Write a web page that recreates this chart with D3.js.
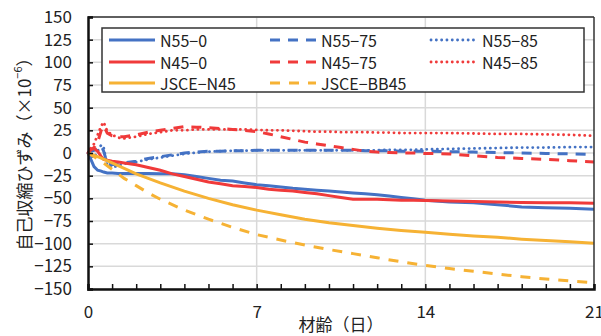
<!DOCTYPE html>
<html>
<head>
<meta charset="utf-8">
<script src="https://cdn.jsdelivr.net/npm/d3@7"></script>
<style>
  body { margin: 0; background: #fff; }
  svg { display: block; }
  text { font-family: 'Noto Sans CJK JP', 'Liberation Sans', sans-serif; fill: #222; }
</style>
</head>
<body>
<svg id="chart" width="601" height="336"></svg>
<script>
// measured series (age in days)
var days = [0, 0.1, 0.25, 0.4, 0.55, 0.65, 0.8, 1, 1.25, 1.5, 2, 2.5, 3, 3.5, 4, 4.5, 5, 5.5, 6, 6.5,
  7, 7.5, 8, 8.5, 9, 9.5, 10, 10.5, 11, 11.5, 12, 12.5, 13, 13.5, 14, 15, 16, 17, 18, 19, 20, 21]

var n55_0 = [0, -6, -15, -19, -20, -21, -22, -22, -22.5, -22.5, -22.5, -22.5, -23, -23, -24, -26, -28, -30, -31, -33,
  -35, -36, -37.5, -39, -40, -41, -42, -43, -44, -45, -46, -47.5, -49, -50.5, -52, -54, -55, -57, -59.5, -60.5, -61, -62]
var n45_0 = [0, 4, 5, 2, -4, -7, -8, -9, -10, -11, -13, -16, -19, -23, -26, -29, -32, -34, -36, -37,
  -38, -40, -41, -42, -43.5, -45, -47, -49, -51, -51, -51, -51.5, -52, -52, -52.5, -53, -53.5, -54, -54.5, -55, -55, -55.5]
var n55_75 = [0, 2, 3, 5, 8, 2, -12, -13, -12, -11, -9, -6, -4, -2, 0, 1, 2, 2, 2.5, 2.5,
  3, 3, 3, 3, 3, 3, 3, 3, 3, 2.5, 2.5, 2.5, 2, 2, 2, 1.5, 1, 0.5, 0, -0.5, -1, -1.5]
var n45_75 = [0, 3, 6, 12, 25, 30, 22, 19, 18, 18, 20, 23, 25, 27, 29, 28.5, 28, 27, 26, 25,
  23.5, 21, 18, 15, 12, 10, 8, 6, 4, 2, 1, 0.5, 0, 0, -0.5, -1, -3, -5, -6, -7, -8.5, -10]
var n55_85 = [0, -3, -5, 2, 9, 6, -14, -16, -14, -12, -10, -7, -5, -3, -1, 0.5, 1.5, 2, 2.5, 2.5,
  3, 3, 3, 3, 3, 3, 3, 3, 3, 3, 3, 3.5, 3.5, 3.5, 4, 4.5, 5, 5.5, 6, 6, 6.5, 6.5]
var n45_85 = [0, 5, 10, 20, 30, 34, 24, 20, 17, 16, 18, 21, 23, 25, 25, 26, 26, 26, 26, 26,
  25.5, 25, 25, 24.5, 24, 23.5, 23.5, 23, 23, 23, 22.5, 22.5, 22, 22, 22, 22, 21.5, 21, 21, 20.5, 20, 19]

// JSCE predictions
var jsceDays = [0, 0.5, 1, 1.5, 2, 2.5, 3, 4, 5, 6, 7, 8, 9, 10, 11, 12, 13, 14, 15, 16, 17, 18, 19, 20, 21]
var jsce_n45 = [0, -5, -11, -17, -23, -28, -33, -42, -50, -57, -63, -68, -73, -77, -80, -83, -85.5, -87.5, -89.5, -91.5, -93, -95, -96.5, -98, -99.5]
var jsce_bb45 = [0, -8, -18, -28, -36, -44, -51, -63, -73, -82, -90, -96, -101.5, -106.5, -111, -115.5, -120, -124, -127.5, -130.5, -133.5, -136.5, -139, -141, -143]

var yTicks = [150, 125, 100, 75, 50, 25, 0, -25, -50, -75, -100, -125, -150]
var xTicks = [0, 7, 14, 21]

var blue = '#4472c4', red = '#f03a3a', orange = '#f6b234'

var series = [
  { name: 'N55-0', x: days, y: n55_0, color: blue, dash: null },
  { name: 'N55-75', x: days, y: n55_75, color: blue, dash: '10,8' },
  { name: 'N55-85', x: days, y: n55_85, color: blue, dash: 'dot' },
  { name: 'N45-0', x: days, y: n45_0, color: red, dash: null },
  { name: 'N45-75', x: days, y: n45_75, color: red, dash: '10,8' },
  { name: 'N45-85', x: days, y: n45_85, color: red, dash: 'dot' },
  { name: 'JSCE-N45', x: jsceDays, y: jsce_n45, color: orange, dash: null },
  { name: 'JSCE-BB45', x: jsceDays, y: jsce_bb45, color: orange, dash: '10,9' }
]

var svg = d3.select('#chart')
var pLeft = 88, pRight = 594, pTop = 17, pBottom = 289

var x = d3.scaleLinear().domain([0, 21]).range([pLeft, pRight])
var y = d3.scaleLinear().domain([-150, 150]).range([pBottom, pTop])

// grid
svg.append('g')
  .selectAll('line')
  .data(yTicks)
  .enter()
  .append('line')
  .attr('x1', pLeft).attr('x2', pRight)
  .attr('y1', d => y(d)).attr('y2', d => y(d))
  .attr('stroke', '#d9d9d9').attr('stroke-width', 1.5)

svg.append('g')
  .selectAll('line')
  .data([7, 14])
  .enter()
  .append('line')
  .attr('x1', d => x(d)).attr('x2', d => x(d))
  .attr('y1', pTop).attr('y2', pBottom)
  .attr('stroke', '#d9d9d9').attr('stroke-width', 1.5)

function styleLine(sel, s) {
  sel.attr('fill', 'none')
    .attr('stroke', s.color)
    .attr('stroke-width', 3)
  if (s.dash == 'dot') {
    sel.attr('stroke-dasharray', '0.1,5.2').attr('stroke-linecap', 'round').attr('stroke-width', 2.8)
  } else if (s.dash) {
    sel.attr('stroke-dasharray', s.dash)
  }
}

var line = d3.line()
  .x(d => x(d[0]))
  .y(d => y(d[1]))

series.forEach(function(s) {
  var pts = s.x.map((d, i) => [d, s.y[i]])
  svg.append('path')
    .datum(pts)
    .attr('d', line)
    .call(styleLine, s)
})

// frame
svg.append('line').attr('x1', pLeft).attr('x2', pRight).attr('y1', pTop).attr('y2', pTop)
  .attr('stroke', '#333').attr('stroke-width', 1.5)
svg.append('line').attr('x1', pRight).attr('x2', pRight).attr('y1', pTop).attr('y2', pBottom)
  .attr('stroke', '#333').attr('stroke-width', 1.5)

// y axis
var yAxis = svg.append('g').attr('transform', 'translate(' + pLeft + ',0)')
  .call(d3.axisLeft(y).tickValues(yTicks).tickSize(-5).tickPadding(16)
    .tickFormat(d => String(d).replace('-', '\u2212')))
yAxis.select('.domain').attr('stroke', '#111').attr('stroke-width', 2.5)
yAxis.selectAll('.tick line').attr('stroke', '#111').attr('stroke-width', 1.5)
yAxis.selectAll('text').style('font-size', '17px').attr('fill', '#222')

// x axis
var xAxis = svg.append('g').attr('transform', 'translate(0,' + pBottom + ')')
  .call(d3.axisBottom(x).tickValues(d3.range(0, 22)).tickSize(-5).tickPadding(17)
    .tickFormat(d => xTicks.indexOf(d) >= 0 ? d : ''))
xAxis.select('.domain').attr('stroke', '#111').attr('stroke-width', 2.5)
xAxis.selectAll('.tick line').attr('stroke', '#111').attr('stroke-width', 1.5)
xAxis.selectAll('text').style('font-size', '17px').attr('fill', '#222')

// axis titles
svg.append('text')
  .attr('x', (pLeft + pRight) / 2)
  .attr('y', 331)
  .attr('text-anchor', 'middle')
  .style('font-size', '17px')
  .text('材齢（日）')

var yt = svg.append('text')
  .attr('transform', 'translate(23,150) rotate(-90)')
  .attr('text-anchor', 'middle')
  .attr('dominant-baseline', 'central')
  .style('font-size', '17px')
yt.append('tspan').text('自己収縮ひずみ（×10')
yt.append('tspan').text('\u22126').style('font-size', '11px').attr('dy', -6)
yt.append('tspan').text('）').attr('dy', 6)

// legend
var legend = svg.append('g')
legend.append('rect')
  .attr('x', 102).attr('y', 28).attr('width', 482).attr('height', 64)
  .attr('fill', '#fff').attr('stroke', '#333').attr('stroke-width', 1.5)

var legendItems = [
  { s: series[0], col: 0, row: 0 }, { s: series[1], col: 1, row: 0 }, { s: series[2], col: 2, row: 0 },
  { s: series[3], col: 0, row: 1 }, { s: series[4], col: 1, row: 1 }, { s: series[5], col: 2, row: 1 },
  { s: series[6], col: 0, row: 2 }, { s: series[7], col: 1, row: 2 }
]
var colX = [109, 270, 431]
var rowY = [40, 62, 83]

legendItems.forEach(function(it) {
  var g = legend.append('g')
  g.append('line')
    .attr('x1', colX[it.col]).attr('x2', colX[it.col] + 46)
    .attr('y1', rowY[it.row]).attr('y2', rowY[it.row])
    .call(styleLine, it.s)
  g.append('text')
    .attr('x', colX[it.col] + 51)
    .attr('y', rowY[it.row])
    .attr('dominant-baseline', 'central')
    .style('font-size', '16px')
    .text(it.s.name.replace('-', '\u2212'))
})
</script>
</body>
</html>
